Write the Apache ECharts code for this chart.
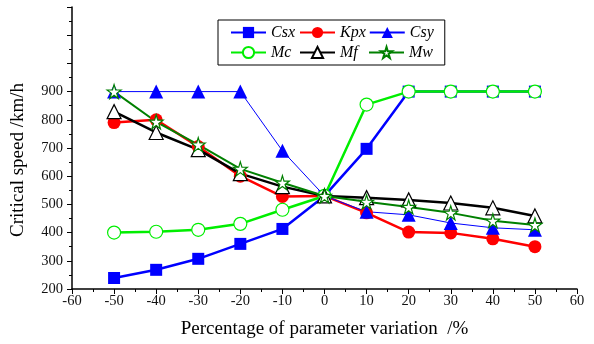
<!DOCTYPE html>
<html><head><meta charset="utf-8">
<script src="https://cdn.jsdelivr.net/npm/echarts@6/dist/echarts.min.js"></script>
<style>html,body{margin:0;padding:0;background:#fff}#c{width:594px;height:344px}</style>
</head><body><div id="c"></div>
<script>
var xValues = [-50, -40, -30, -20, -10, 0, 10, 20, 30, 40, 50];
var seriesNames = ['Csx', 'Kpx', 'Csy', 'Mc', 'Mf', 'Mw'];
var csx = [239, 268, 307, 360, 413, 530, 697, 900, 900, 900, 900];
var kpx = [790, 800, 705, 600, 528, 530, 470, 402, 399, 378, 350];
var csy = [900, 900, 900, 900, 690, 530, 474, 463, 434, 417, 410];
var mc  = [400, 403, 410, 431, 481, 530, 854, 900, 900, 900, 900];
var mf  = [829, 755, 694, 609, 563, 530, 524, 516, 505, 488, 459];
var mw  = [900, 793, 712, 626, 577, 530, 509, 491, 470, 442, 427];
var xTicks = [-60, -50, -40, -30, -20, -10, 0, 10, 20, 30, 40, 50, 60];
var yTickLabels = [200, 300, 400, 500, 600, 700, 800, 900];

function pairs(v){ return xValues.map(function(x,i){ return [x, v[i]]; }); }
var starPath = 'path://M50,0 L61,35 L98,35 L68,57 L79,91 L50,70 L21,91 L32,57 L2,35 L39,35 Z';
function mk(name, data, color, width, symbol, size, fill, bw){
  return {
    name: name, type: 'line', data: pairs(data),
    symbol: symbol, symbolSize: size, showSymbol: true,
    lineStyle: {color: color, width: width},
    itemStyle: {color: fill, borderColor: color, borderWidth: bw},
    emphasis: {disabled: true}, animation: false
  };
}
var chart = echarts.init(document.getElementById('c'), null, {renderer: 'canvas'});
var font = '"Liberation Serif", "Times New Roman", serif';
chart.setOption({
  backgroundColor: '#fff',
  animation: false,
  grid: {left: 72, right: 17, top: 7, bottom: 55, containLabel: false},
  legend: {
    left: 218, top: 20, width: 215,
    padding: [4, 10, 4, 12], itemGap: 3,
    itemWidth: 35, itemHeight: 14,
    borderColor: '#000', borderWidth: 1,
    data: seriesNames,
    textStyle: {fontFamily: font, fontStyle: 'italic', fontSize: 16, color: '#000', width: 25, lineHeight: 17}
  },
  xAxis: {
    type: 'value', min: -60, max: 60, interval: 10,
    name: 'Percentage of parameter variation  /%', nameLocation: 'middle', nameGap: 31,
    nameTextStyle: {fontFamily: font, fontSize: 19, color: '#000'},
    axisLine: {show: true, onZero: false, lineStyle: {color: '#000', width: 1.5}},
    axisTick: {show: true, inside: false, length: 5, lineStyle: {color: '#000'}},
    minorTick: {show: true, splitNumber: 2, length: 3, lineStyle: {color: '#000'}},
    splitLine: {show: false},
    axisLabel: {margin: 5, fontFamily: font, fontSize: 14.5, color: '#111',
      formatter: function(v){ return xTicks.indexOf(v) >= 0 ? String(v) : ''; }}
  },
  yAxis: {
    type: 'value', min: 200, max: 1200, interval: 100,
    axisLine: {show: true, onZero: false, lineStyle: {color: '#000', width: 1.5}},
    axisTick: {show: true, inside: false, length: 5, lineStyle: {color: '#000'}},
    minorTick: {show: true, splitNumber: 2, length: 3, lineStyle: {color: '#000'}},
    splitLine: {show: false},
    axisLabel: {margin: 9, fontFamily: font, fontSize: 14.5, color: '#111',
      formatter: function(v){ return yTickLabels.indexOf(v) >= 0 ? String(v) : ''; }}
  },
  graphic: [{
    type: 'text', x: 18, y: 160, rotation: Math.PI / 2,
    style: {text: 'Critical speed /km/h', font: '19px ' + font, fill: '#000', align: 'center', verticalAlign: 'middle'}
  }],
  series: [
    mk('Csx', csx, '#0000ff', 2.5, 'rect', 12, '#0000ff', 0),
    mk('Kpx', kpx, '#ff0000', 2.5, 'circle', 13, '#ff0000', 0),
    mk('Csy', csy, '#0000ff', 1, 'triangle', 14, '#0000ff', 0),
    mk('Mc', mc, '#00ee00', 2.5, 'circle', 13, '#ffffff', 1.2),
    mk('Mf', mf, '#000000', 2.5, 'triangle', 14, '#ffffff', 1.2),
    mk('Mw', mw, '#008000', 2, starPath, 14, '#ffffff', 1.2)
  ]
});
</script></body></html>
